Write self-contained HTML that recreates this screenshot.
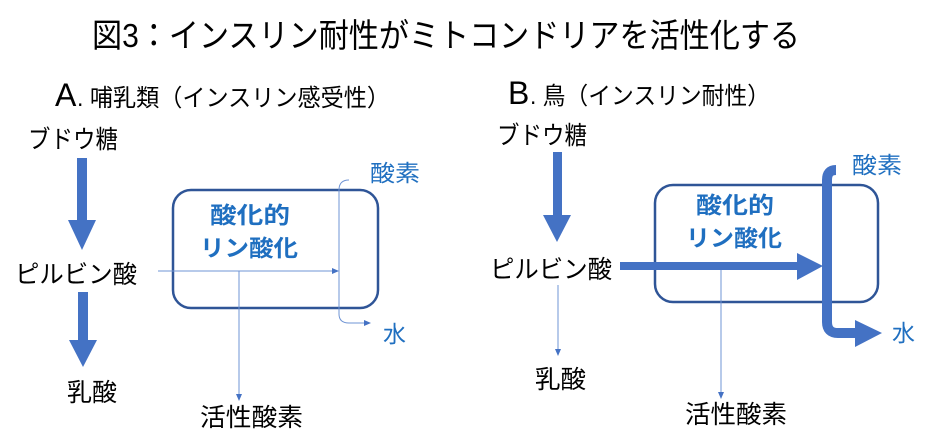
<!DOCTYPE html>
<html><head><meta charset="utf-8"><style>
html,body{margin:0;padding:0;background:#fff;}
svg{display:block;}
text{font-family:"Liberation Sans","Noto Sans CJK JP",sans-serif;}
</style></head><body>
<svg width="945" height="446" viewBox="0 0 945 446" xmlns="http://www.w3.org/2000/svg">
<defs>
<marker id="sa" markerWidth="8" markerHeight="8" refX="6" refY="3" orient="auto" markerUnits="userSpaceOnUse"><path d="M0,0 L7,3 L0,6 z" fill="#4472c4"/></marker>
</defs>
<rect width="945" height="446" fill="#fff"/>
<!-- Title -->
<text x="92" y="47" font-size="33" fill="#000" textLength="708" lengthAdjust="spacingAndGlyphs">図3：インスリン耐性がミトコンドリアを活性化する</text>
<!-- Headings -->
<text x="55" y="106" font-size="32" fill="#000">A</text>
<text x="77" y="106" font-size="24" fill="#000" textLength="313" lengthAdjust="spacingAndGlyphs">. 哺乳類（インスリン感受性）</text>
<text x="508" y="104" font-size="32" fill="#000">B</text>
<text x="530" y="104" font-size="24" fill="#000" textLength="240" lengthAdjust="spacingAndGlyphs">.  鳥（インスリン耐性）</text>

<!-- Panel A -->
<g font-size="25" fill="#000">
<text x="28" y="148" textLength="90" lengthAdjust="spacingAndGlyphs">ブドウ糖</text>
<text x="15" y="283" textLength="122" lengthAdjust="spacingAndGlyphs">ピルビン酸</text>
<text x="67" y="401" textLength="50" lengthAdjust="spacingAndGlyphs">乳酸</text>
<text x="200" y="426" textLength="103" lengthAdjust="spacingAndGlyphs">活性酸素</text>
</g>
<path d="M77,158 H87 V220 H96 L82,250 L68,220 H77 Z" fill="#4472c4"/>
<path d="M78,292 H88 V340 H97 L83,367 L69,340 H78 Z" fill="#4472c4"/>
<rect x="173" y="190" width="205" height="118" rx="18" fill="none" stroke="#2f5597" stroke-width="2.5"/>
<g font-size="23" font-weight="bold" fill="#1f6fc0">
<text x="210" y="223" textLength="80" lengthAdjust="spacingAndGlyphs">酸化的</text>
<text x="200" y="256" textLength="98" lengthAdjust="spacingAndGlyphs">リン酸化</text>
</g>
<line x1="158" y1="271" x2="338" y2="271" stroke="#6f94d4" stroke-width="1" marker-end="url(#sa)"/>
<path d="M349,180 Q339,180 339,190 V314 Q339,323 349,323 H370" fill="none" stroke="#6f94d4" stroke-width="1" marker-end="url(#sa)"/>
<line x1="239" y1="271" x2="239" y2="400" stroke="#6f94d4" stroke-width="1" marker-end="url(#sa)"/>
<g font-size="23" fill="#1f6fc0">
<text x="370" y="181" textLength="50" lengthAdjust="spacingAndGlyphs">酸素</text>
<text x="383" y="342">水</text>
</g>

<!-- Panel B -->
<g font-size="25" fill="#000">
<text x="497" y="144" textLength="90" lengthAdjust="spacingAndGlyphs">ブドウ糖</text>
<text x="490" y="278" textLength="122" lengthAdjust="spacingAndGlyphs">ピルビン酸</text>
<text x="535" y="388" textLength="51" lengthAdjust="spacingAndGlyphs">乳酸</text>
<text x="685" y="423" textLength="102" lengthAdjust="spacingAndGlyphs">活性酸素</text>
</g>
<path d="M553,152 H562 V215 H571 L557,242 L543,215 H553 Z" fill="#4472c4"/>
<line x1="558" y1="285" x2="558" y2="355" stroke="#6f94d4" stroke-width="1" marker-end="url(#sa)"/>
<rect x="655" y="185" width="223" height="117" rx="18" fill="none" stroke="#2f5597" stroke-width="2.5"/>
<g font-size="23" font-weight="bold" fill="#1f6fc0">
<text x="696" y="213" textLength="78" lengthAdjust="spacingAndGlyphs">酸化的</text>
<text x="686" y="246" textLength="96" lengthAdjust="spacingAndGlyphs">リン酸化</text>
</g>
<line x1="721" y1="270" x2="721" y2="398" stroke="#6f94d4" stroke-width="1" marker-end="url(#sa)"/>
<path d="M620,262 H797 V253 L823,266 L797,280 V270 H620 Z" fill="#4472c4"/>
<path d="M836,170 Q827,170 827,180 V322 Q827,333 838,333 H856" fill="none" stroke="#4472c4" stroke-width="10"/>
<path d="M855,320 L882,333 L855,347 Z" fill="#4472c4"/>
<g font-size="23" fill="#1f6fc0">
<text x="852" y="173" textLength="50" lengthAdjust="spacingAndGlyphs">酸素</text>
<text x="892" y="341">水</text>
</g>
</svg>
</body></html>
